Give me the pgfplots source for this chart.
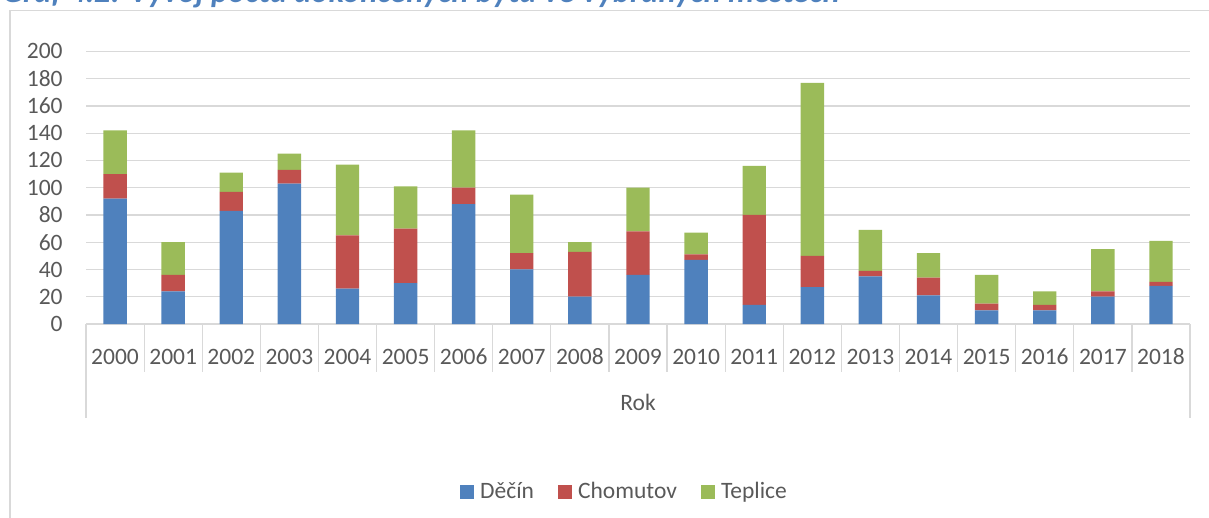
\documentclass[border=0pt]{standalone}
\usepackage{fontspec}
\setmainfont{Carlito}
\usepackage{pgfplots}
\usepackage{pgfplotstable}
\pgfplotsset{compat=1.18}

\definecolor{cD}{HTML}{4F81BD}
\definecolor{cC}{HTML}{C0504D}
\definecolor{cT}{HTML}{9BBB59}
\definecolor{gridc}{HTML}{D9D9D9}
\definecolor{txt}{HTML}{595959}
\definecolor{titl}{HTML}{4F81BD}

% dokoncene byty: Decin, Chomutov, Teplice (x = rok - 2000)
\pgfplotstableread{
x  D   C   T
0  92  18  32
1  24  12  24
2  83  14  14
3  103 10  12
4  26  39  52
5  30  40  31
6  88  12  42
7  40  12  43
8  20  33  7
9  36  32  32
10 47  4   16
11 14  66  36
12 27  23  127
13 35  4   30
14 21  13  18
15 10  5   21
16 10  4   10
17 20  4   31
18 28  3   30
}\datatable

\newcommand\lbl{\fontsize{11.75}{14}\selectfont}

\begin{document}
\begin{tikzpicture}
\useasboundingbox (0,0) rectangle (604.5pt,-259pt);
\node[anchor=base west, inner sep=0pt, text=titl,
  font=\fontsize{16.2}{19}\selectfont\bfseries\itshape] at (1pt,-1.2pt)
  {Graf 4.2: Vývoj počtu dokončených bytů ve vybraných městech};
\draw[gridc, line width=0.6pt] (5pt,-300pt) |- (700pt,-5.3pt);

\begin{axis}[
  at={(43pt,-162pt)}, anchor=south west,
  scale only axis, width=552pt, height=136.3pt,
  xmin=-0.5, xmax=18.5, ymin=0, ymax=200,
  enlargelimits=false,
  ybar stacked, bar width=11.7pt,
  axis line style={draw=none},
  ytick={0,20,...,200},
  xtick={0,...,18},
  xticklabels={2000,2001,2002,2003,2004,2005,2006,2007,2008,2009,2010,2011,2012,2013,2014,2015,2016,2017,2018},
  major tick length=0pt,
  ymajorgrids, grid style={gridc, line width=0.6pt},
  tick label style={font=\lbl, text=txt},
  /pgf/number format/assume math mode=true,
  yticklabel style={anchor=east, inner sep=0pt, xshift=-11.5pt},
  xticklabel style={anchor=base, inner sep=0pt, yshift=-20pt},
  clip=false,
  legend columns=3,
  legend style={at={(0.4869,-0.6163)}, anchor=center, draw=none, fill=none,
    font=\lbl, text=txt, inner sep=0pt, nodes={inner sep=0pt},
    /tikz/every odd column/.append style={column sep=3pt},
    /tikz/every even column/.append style={column sep=12pt}},
  sq/.style={legend image code/.code={\fill (0pt,-3.5pt) rectangle (7pt,3.5pt);}},
]
\addplot[fill=cD, draw=none, sq] table[x=x, y=D] {\datatable};
\addplot[fill=cC, draw=none, sq] table[x=x, y=C] {\datatable};
\addplot[fill=cT, draw=none, sq] table[x=x, y=T] {\datatable};
\legend{Děčín, Chomutov, Teplice}

% oddelovace kategorii pod osou
\pgfplotsinvokeforeach{0.5,1.5,2.5,3.5,4.5,5.5,6.5,7.5,8.5,9.5,10.5,11.5,12.5,13.5,14.5,15.5,16.5,17.5}{
  \draw[gridc, line width=0.6pt] (axis cs:#1,0) -- ++(0pt,-24pt);
}
\draw[gridc, line width=0.6pt] (axis cs:-0.5,0) -- ++(0pt,-47pt);
\draw[gridc, line width=0.6pt] (axis cs:18.5,0) -- ++(0pt,-47pt);
\node[anchor=base, font=\lbl, text=txt, yshift=-43.25pt] at (axis cs:9,0) {Rok};
\end{axis}
\end{tikzpicture}
\end{document}
